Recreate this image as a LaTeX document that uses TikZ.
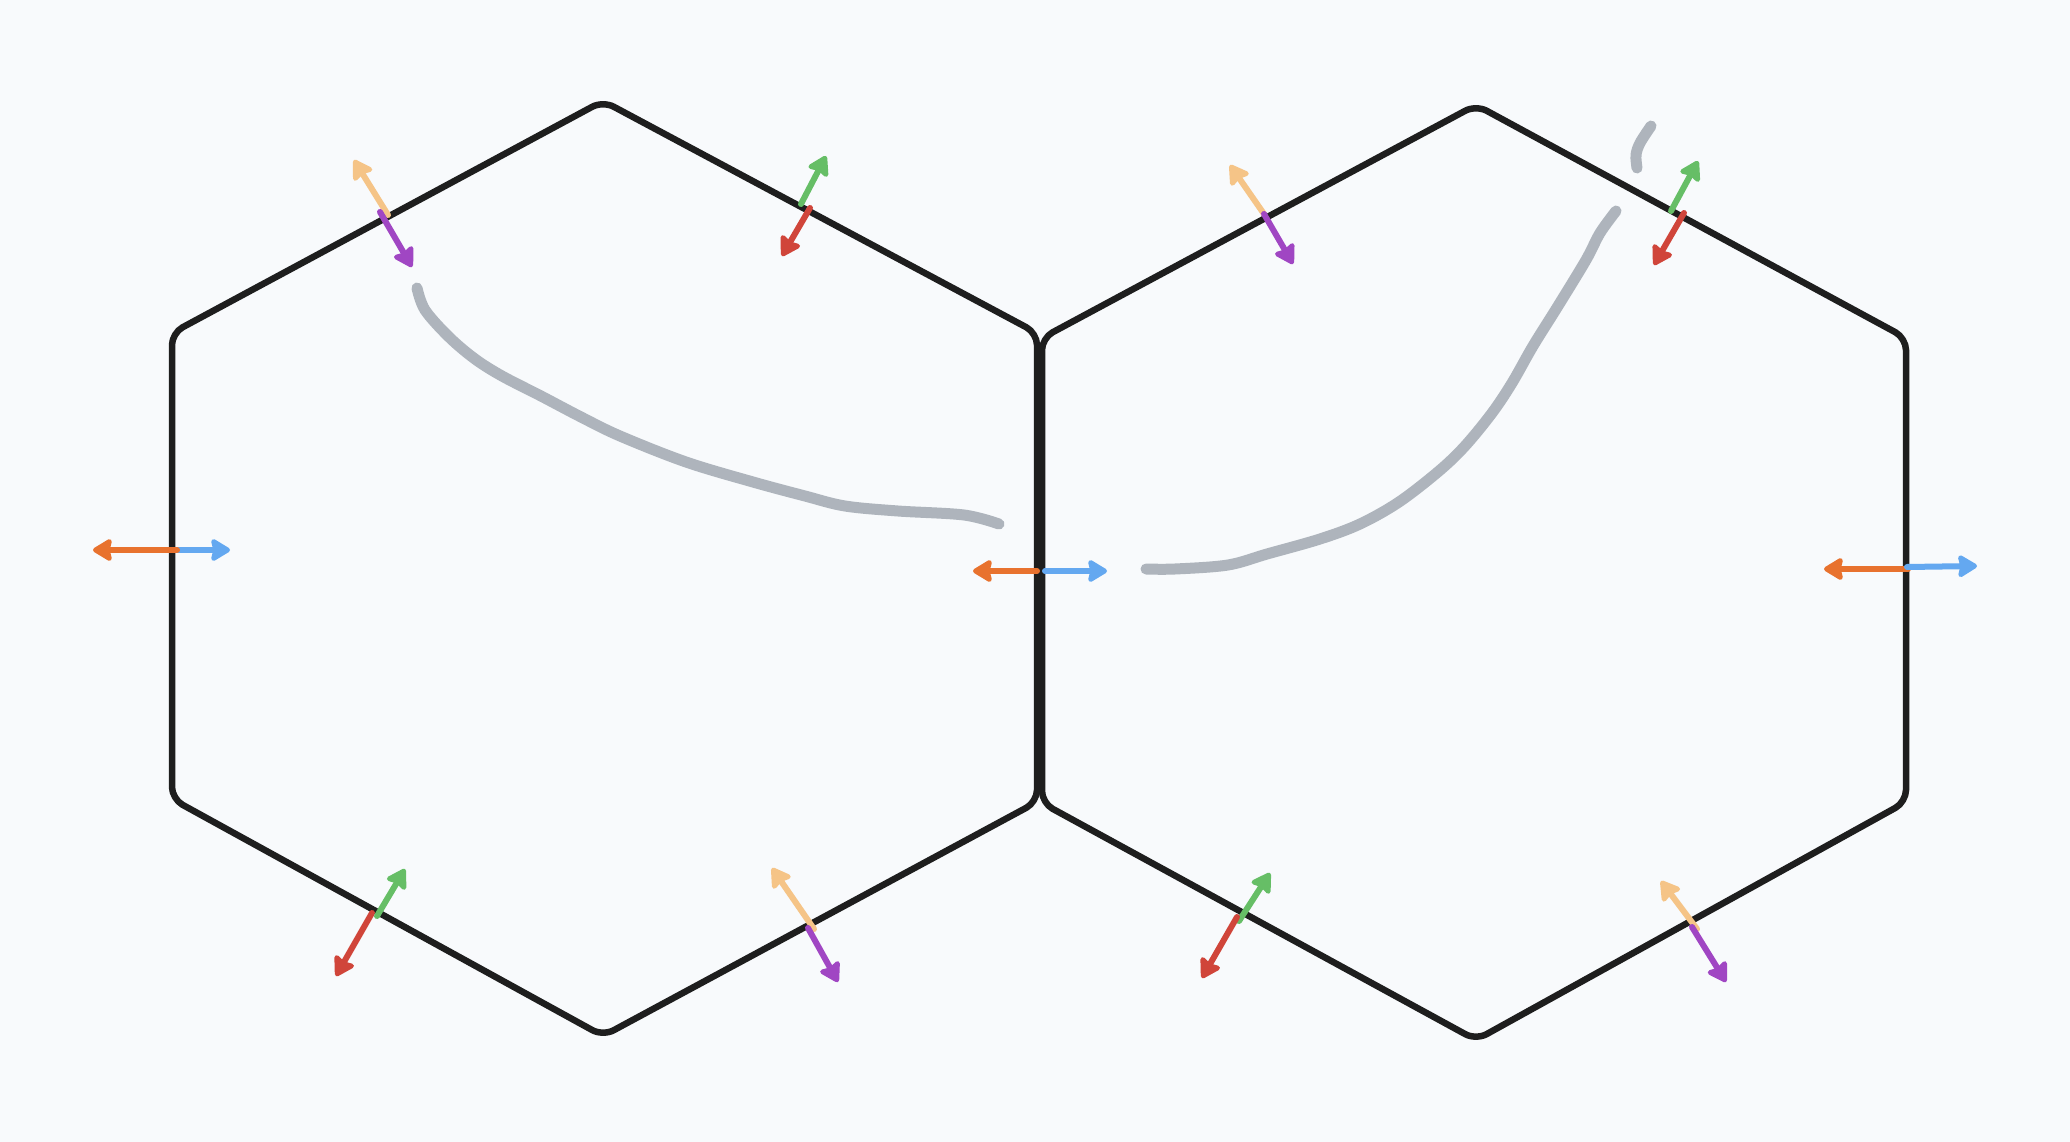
\documentclass[tikz,border=0pt]{standalone}
\usetikzlibrary{arrows.meta}
\definecolor{bg}{RGB}{248,250,252}
\definecolor{ink}{RGB}{30,30,30}
\definecolor{peach}{RGB}{245,196,135}
\definecolor{violet2}{RGB}{160,70,195}
\definecolor{green2}{RGB}{102,190,102}
\definecolor{red2}{RGB}{208,69,58}
\definecolor{orange2}{RGB}{232,114,46}
\definecolor{blue2}{RGB}{100,168,240}
\definecolor{sketchgray}{RGB}{174,180,188}
\begin{document}
\begin{tikzpicture}[x=1pt,y=-1pt,
  hexline/.style={draw=ink,line width=6.5pt,rounded corners=12pt,line join=round},
  vec/.style={line width=6pt,line cap=round,-{Stealth[length=22pt,width=26pt,inset=3pt,round]}},
  sketch/.style={draw=sketchgray,line width=11pt,line cap=round,line join=round}]
\fill[bg] (0,0) rectangle (2070,1142);
\useasboundingbox (0,0) rectangle (2070,1142);

% left hexagon vertices
\coordinate (T1) at (603,101);
\coordinate (UR1) at (1037,333);
\coordinate (LR1) at (1037,802);
\coordinate (B1) at (603,1036);
\coordinate (LL1) at (172,799);
\coordinate (UL1) at (172,333);
% right hexagon vertices
\coordinate (T2) at (1476,105);
\coordinate (UR2) at (1906,338);
\coordinate (LR2) at (1906,802);
\coordinate (B2) at (1476,1040);
\coordinate (LL2) at (1042,803);
\coordinate (UL2) at (1042,338);

% sketched curves
\draw[sketch] plot[smooth,tension=0.55] coordinates {(417,288) (425,310) (449,337) (475,359) (502,376) (541,396) (581,417) (620,436) (686,462) (753,482) (805,496) (845,506) (898,511) (964,515) (999,524)};
\draw[sketch] plot[smooth,tension=0.55] coordinates {(1146,569) (1175,569) (1228,565) (1267,554) (1320,539) (1360,524) (1399,502) (1439,471) (1465,446) (1492,413) (1512,383) (1533,346) (1558,306) (1586,260) (1600,233) (1616,211)};
\draw[sketch] plot[smooth,tension=0.55] coordinates {(1651,126) (1640,143) (1636,155) (1637,168)};

% hexagons
\draw[hexline] (T1) -- (UR1) -- (LR1) -- (B1) -- (LL1) -- (UL1) -- cycle;
\draw[hexline] (T2) -- (UR2) -- (LR2) -- (B2) -- (LL2) -- (UL2) -- cycle;

% normal vector coordinates
\coordinate (a1) at (388,215); \coordinate (a1h) at (354,160);
\coordinate (a2) at (380,212); \coordinate (a2h) at (412,267);
\coordinate (b1) at (801,204); \coordinate (b1h) at (826,156);
\coordinate (b2) at (810,208); \coordinate (b2h) at (782,256);
\coordinate (c1) at (177,550); \coordinate (c1h) at (93,550);
\coordinate (c2) at (176,550); \coordinate (c2h) at (230,550);
\coordinate (d1) at (377,916); \coordinate (d1h) at (405,869);
\coordinate (d2) at (372,913); \coordinate (d2h) at (336,976);
\coordinate (e1) at (814,929); \coordinate (e1h) at (772,868);
\coordinate (e2) at (808,928); \coordinate (e2h) at (838,982);
\coordinate (f1) at (1037,571); \coordinate (f1h) at (973,571);
\coordinate (f2) at (1045,571); \coordinate (f2h) at (1107,571);
\coordinate (g1) at (1264,214); \coordinate (g1h) at (1230,165);
\coordinate (g2) at (1264,214); \coordinate (g2h) at (1293,264);
\coordinate (h1) at (1671,211); \coordinate (h1h) at (1698,161);
\coordinate (h2) at (1684,213); \coordinate (h2h) at (1654,265);
\coordinate (i1) at (1908,569); \coordinate (i1h) at (1824,569);
\coordinate (i2) at (1907,567); \coordinate (i2h) at (1977,566);
\coordinate (j1) at (1239,921); \coordinate (j1h) at (1270,873);
\coordinate (j2) at (1237,917); \coordinate (j2h) at (1202,978);
\coordinate (k1) at (1697,929); \coordinate (k1h) at (1661,881);
\coordinate (k2) at (1692,927); \coordinate (k2h) at (1726,982);

% arrows
\draw[vec,peach] (a1) -- (a1h);
\draw[vec,violet2] (a2) -- (a2h);
\draw[vec,green2] (b1) -- (b1h);
\draw[vec,red2] (b2) -- (b2h);
\draw[vec,blue2] (c2) -- (c2h);
\draw[vec,orange2] (c1) -- (c1h);
\draw[vec,red2] (d2) -- (d2h);
\draw[vec,green2] (d1) -- (d1h);
\draw[vec,peach] (e1) -- (e1h);
\draw[vec,violet2] (e2) -- (e2h);
\draw[vec,orange2] (f1) -- (f1h);
\draw[vec,blue2] (f2) -- (f2h);
\draw[vec,peach] (g1) -- (g1h);
\draw[vec,violet2] (g2) -- (g2h);
\draw[vec,green2] (h1) -- (h1h);
\draw[vec,red2] (h2) -- (h2h);
\draw[vec,orange2] (i1) -- (i1h);
\draw[vec,blue2] (i2) -- (i2h);
\draw[vec,green2] (j1) -- (j1h);
\draw[vec,red2] (j2) -- (j2h);
\draw[vec,peach] (k1) -- (k1h);
\draw[vec,violet2] (k2) -- (k2h);
\end{tikzpicture}
\end{document}
